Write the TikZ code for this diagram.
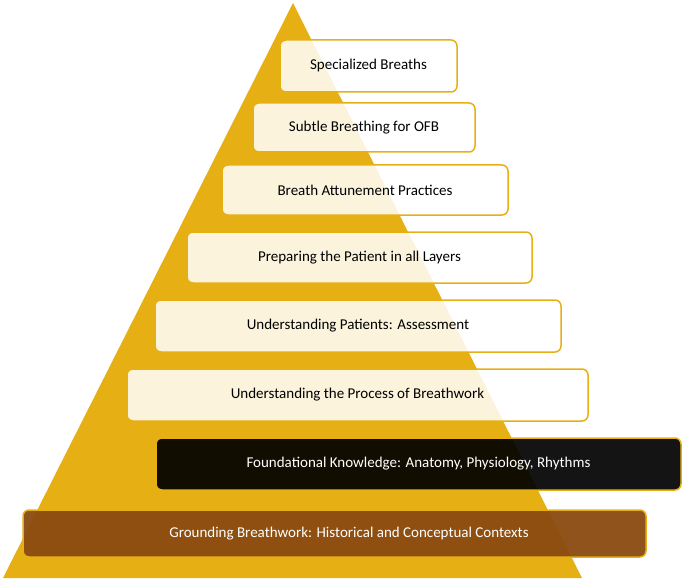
\documentclass[tikz,border=0pt]{standalone}
\usepackage{fontspec}
\setmainfont{Carlito}
\begin{document}
\begin{tikzpicture}[x=1pt,y=-1pt,
  box/.style={draw=gold,line width=1.5pt,rounded corners=6pt,fill=white,fill opacity=0.85,text opacity=1,font=\fontsize{15}{18}\selectfont,inner sep=0pt},
  dark/.style={box,fill=black,fill opacity=0.92,text=white},
  brown/.style={box,fill=brownc,fill opacity=0.95,text=white}]
\definecolor{gold}{HTML}{E6B015}
\definecolor{brownc}{HTML}{8A4A10}
\useasboundingbox (0,0) rectangle (685,580);
\fill[gold] (293,3) -- (582,578) -- (3,578) -- cycle;
\path[box] (280,40) rectangle (457,92);
\node (n1) at (368.5,66) {\fontsize{15}{18}\selectfont Specialized Breaths};
\path[box] (253,103) rectangle (475,152);
\node (n2) at (364,127.5) {\fontsize{15}{18}\selectfont Subtle Breathing for OFB};
\path[box] (222,165) rectangle (508,215);
\node (n3) at (365,190) {\fontsize{15}{18}\selectfont Breath Attunement Practices};
\path[box] (187,232) rectangle (532,283);
\node (n4) at (359.5,257.5) {\fontsize{15}{18}\selectfont Preparing the Patient in all Layers};
\path[box] (155,300) rectangle (561,352);
\node (n5) at (358,326) {\fontsize{15}{18}\selectfont Understanding Patients: Assessment};
\path[box] (127,369) rectangle (588,421);
\node (n6) at (357.5,395) {\fontsize{15}{18}\selectfont Understanding the Process of Breathwork};
\path[dark] (156,438) rectangle (681,490);
\node[text=white] (n7) at (418.5,464) {\fontsize{15}{18}\selectfont Foundational Knowledge: Anatomy, Physiology, Rhythms};
\path[brown] (23,510) rectangle (646,557);
\node[text=white] (n8) at (349,533.5) {\fontsize{15}{18}\selectfont Grounding Breathwork: Historical and Conceptual Contexts};
\end{tikzpicture}
\end{document}
